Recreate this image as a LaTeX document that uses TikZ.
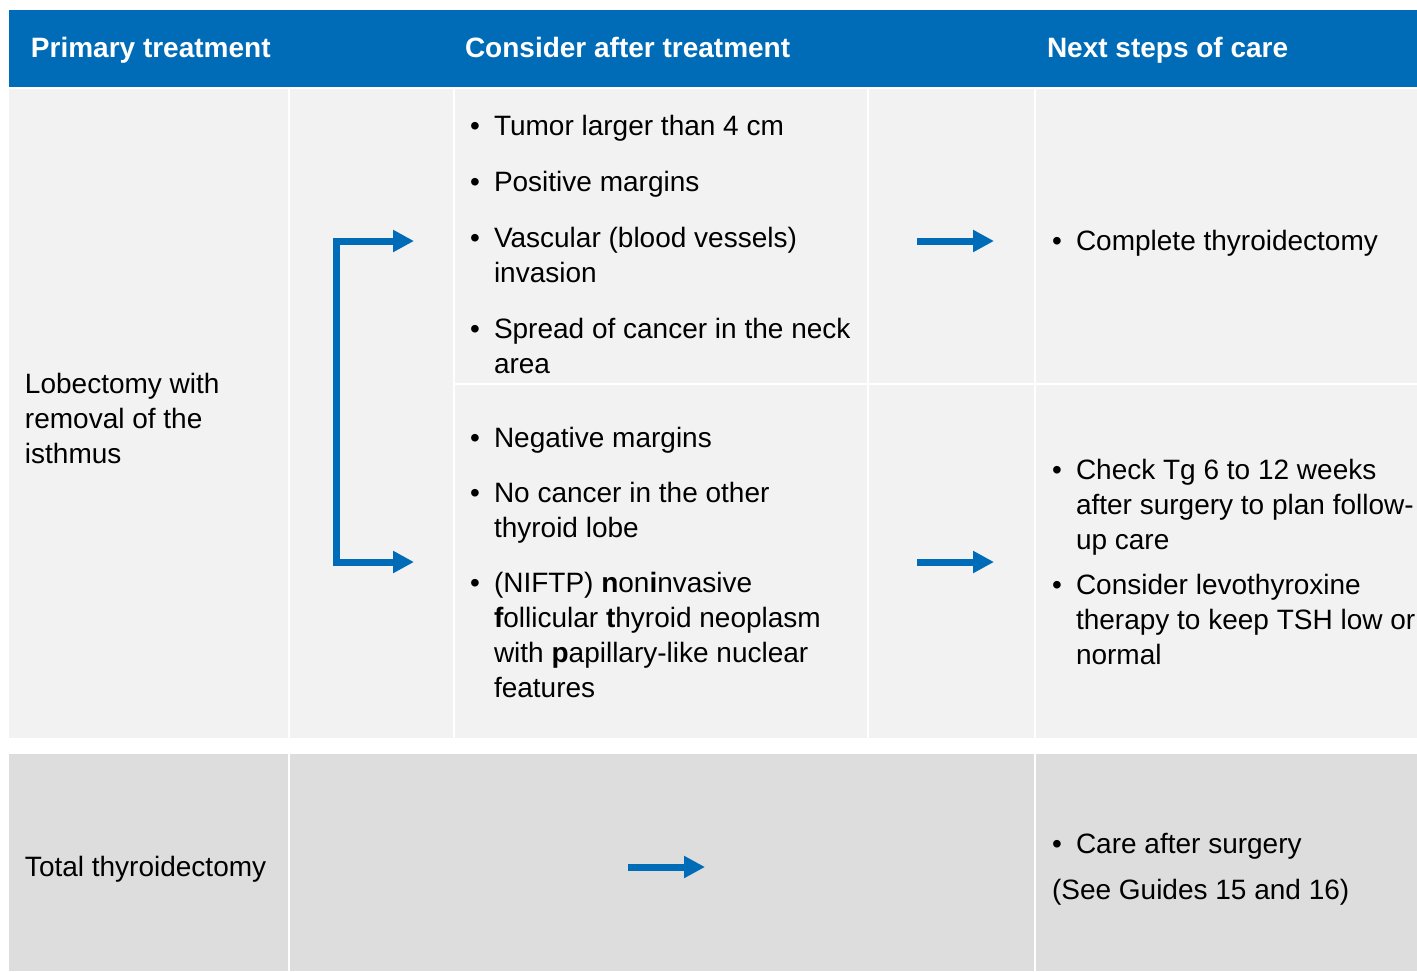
\documentclass[tikz,border=0pt]{standalone}
\usepackage{fontspec}
\setmainfont{Liberation Sans}
\usetikzlibrary{arrows.meta}
\definecolor{hdrblue}{HTML}{006CB7}
\definecolor{lightcell}{HTML}{F2F2F2}
\definecolor{darkcell}{HTML}{DDDDDD}
\newcommand{\bul}{\llap{\textbullet\hspace{7pt}}}
\begin{document}
\begin{tikzpicture}[x=0.5pt,y=-0.5pt,
  lcell/.style={fill=lightcell},
  dcell/.style={fill=darkcell},
  txt/.style={anchor=base west,inner sep=0pt,outer sep=0pt,align=left,font=\fontsize{14}{17.5}\selectfont,text=black},
  hdr/.style={anchor=base west,inner sep=0pt,outer sep=0pt,font=\fontsize{14}{17.5}\selectfont\bfseries,text=white},
  tip/.tip={Triangle[length=10.5pt,width=10.5pt]},
  flow/.style={draw=hdrblue,line width=3.5pt,line join=miter,-tip},
  bracketflow/.style={draw=hdrblue,line width=3.5pt,line join=miter,tip-tip}
]
\useasboundingbox (0,0) rectangle (1417,971);
\fill[white] (0,0) rectangle (1417,971);
% header
\fill[hdrblue] (9,10) rectangle (1417,87);
% cells, upper block
\fill[lcell] (9,89) rectangle (288,738);
\fill[lcell] (290,89) rectangle (453,738);
\fill[lcell] (455,89) rectangle (867,383);
\fill[lcell] (455,385) rectangle (867,738);
\fill[lcell] (869,89) rectangle (1034,383);
\fill[lcell] (869,385) rectangle (1034,738);
\fill[lcell] (1036,89) rectangle (1417,383);
\fill[lcell] (1036,385) rectangle (1417,738);
% cells, lower block
\fill[dcell] (9,754) rectangle (288,971);
\fill[dcell] (290,754) rectangle (1034,971);
\fill[dcell] (1036,754) rectangle (1417,971);

% header texts (anchored at baseline of last line)
\node[hdr] (h1) at (31,57) {Primary treatment};
\node[hdr] (h2) at (465,57) {Consider after treatment};
\node[hdr] (h3) at (1047,57) {Next steps of care};

% column 1
\node[txt] (lob) at (25,463) {Lobectomy with\\removal of the\\isthmus};
\node[txt] (tot) at (25,876) {Total thyroidectomy};

% column 3, upper
\node[txt] (a1) at (494,135) {\bul Tumor larger than 4 cm};
\node[txt] (a2) at (494,191) {\bul Positive margins};
\node[txt] (a3) at (494,282) {\bul Vascular (blood vessels)\\invasion};
\node[txt] (a4) at (494,373) {\bul Spread of cancer in the neck\\area};
% column 3, lower
\node[txt] (b1) at (494,447) {\bul Negative margins};
\node[txt] (b2) at (494,537) {\bul No cancer in the other\\thyroid lobe};
\node[txt] (b3) at (494,697) {\bul (NIFTP) \textbf{n}on\textbf{i}nvasive\\\textbf{f}ollicular \textbf{t}hyroid neoplasm\\with \textbf{p}apillary-like nuclear\\features};

% column 5
\node[txt] (c1) at (1076,250) {\bul Complete thyroidectomy};
\node[txt] (d1) at (1076,549) {\bul Check Tg 6 to 12 weeks\\after surgery to plan follow-\\up care};
\node[txt] (d2) at (1076,664) {\bul Consider levothyroxine\\therapy to keep TSH low or\\normal};
\node[txt] (e1) at (1076,853) {\bul Care after surgery};
\node[txt] (e2) at (1052,899) {(See Guides 15 and 16)};

% arrow coordinates
\coordinate (brTop) at (414,241);
\coordinate (brTopC) at (336,241);
\coordinate (brBotC) at (336,562);
\coordinate (brBot) at (414,562);
\coordinate (rAs) at (917,241);
\coordinate (rAe) at (994,241);
\coordinate (rBs) at (917,562);
\coordinate (rBe) at (994,562);
\coordinate (rCs) at (628,867);
\coordinate (rCe) at (705,867);

\draw[bracketflow] (brTop) -- (brTopC) -- (brBotC) -- (brBot);
\draw[flow] (rAs) -- (rAe);
\draw[flow] (rBs) -- (rBe);
\draw[flow] (rCs) -- (rCe);
\end{tikzpicture}
\end{document}
